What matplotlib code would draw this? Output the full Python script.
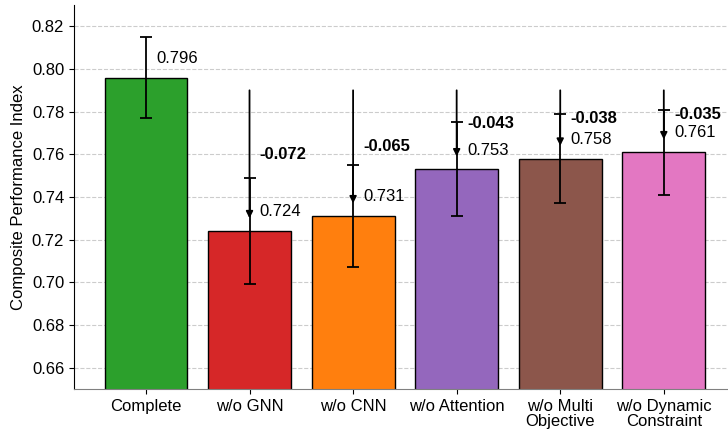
import matplotlib

matplotlib.use("Agg")
import matplotlib.pyplot as plt
import numpy as np

plt.rcParams["font.family"] = ["Liberation Sans", "DejaVu Sans"]

# Ablation results
variants = ["Complete", "w/o GNN", "w/o CNN", "w/o Attention",
            "w/o Multi\nObjective", "w/o Dynamic\nConstraint"]
scores = [0.796, 0.724, 0.731, 0.753, 0.758, 0.761]
errors = [0.019, 0.025, 0.024, 0.022, 0.021, 0.020]
colors = ["#2ca02c", "#d62728", "#ff7f0e", "#9467bd", "#8c564b", "#e377c2"]

fig = plt.figure(figsize=(7.28, 4.32), dpi=100)
ax = fig.add_axes([0.1016, 0.0995, 0.897, 0.889])

x = np.arange(len(variants))
ax.bar(x, scores, width=0.8, color=colors, edgecolor="black", linewidth=1.0, zorder=2)
ax.errorbar(x, scores, yerr=errors, fmt="none", ecolor="black",
            elinewidth=1.3, capsize=4, capthick=1.3, zorder=3)

base = scores[0]
arrow_top = 0.790
for i, v in enumerate(scores):
    ax.text(i + 0.1, v + 0.009, f"{v:.3f}", ha="left", va="center", fontsize=12, zorder=4)
    if i == 0:
        continue
    # drop relative to the complete model
    ax.annotate("", xy=(i, v + 0.006), xytext=(i, arrow_top),
                arrowprops=dict(arrowstyle="-|>", color="black", lw=1.3,
                                mutation_scale=10, shrinkA=0, shrinkB=0),
                zorder=4)
    ax.text(i + 0.1, (v + base) / 2, f"{v - base:.3f}", ha="left", va="center",
            fontsize=12, fontweight="bold", zorder=4)

ax.set_ylim(0.65, 0.83)
ax.set_xlim(-0.695, 5.61)
ax.set_yticks(np.arange(0.66, 0.821, 0.02))
ax.set_xticks(x)
ax.set_xticklabels(variants, fontsize=12, linespacing=1.0)
ax.tick_params(axis="y", labelsize=12)
ax.set_ylabel("Composite Performance Index", fontsize=12)

ax.grid(axis="y", linestyle="--", color="#cccccc", linewidth=0.8, zorder=0)
ax.set_axisbelow(True)
ax.spines["top"].set_visible(False)
ax.spines["right"].set_visible(False)
ax.spines["bottom"].set_color("#808080")

fig.savefig("out.png", dpi=100)
